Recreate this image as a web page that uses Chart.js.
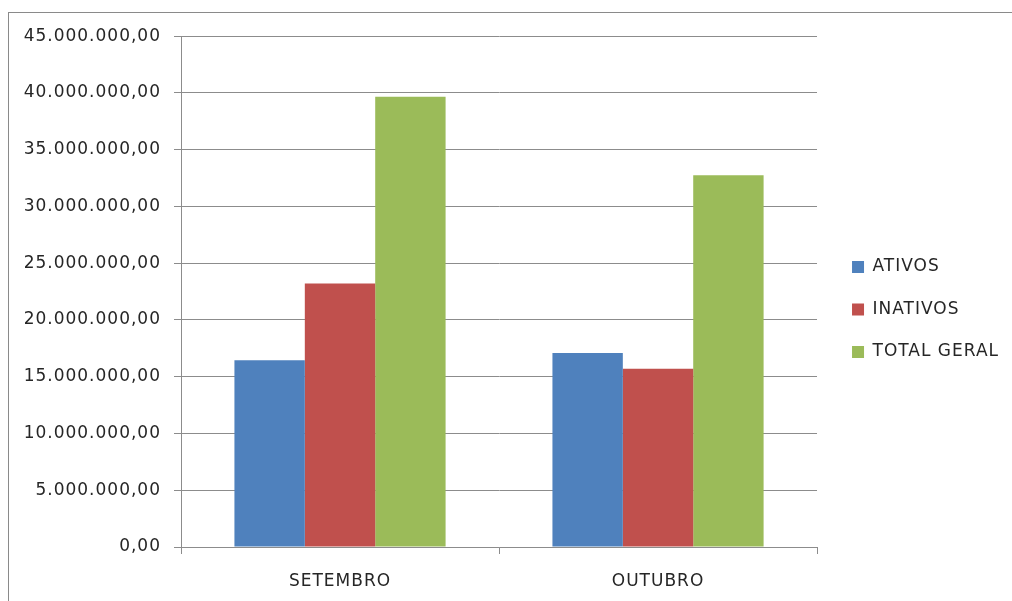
<!DOCTYPE html>
<html><head><meta charset="utf-8">
<script src="https://cdn.jsdelivr.net/npm/chart.js@4"></script>
<style>
html,body{margin:0;padding:0;overflow:hidden;background:#fff;width:1012px;height:601px}
#wrap{position:absolute;left:8px;top:12px;width:1010px;height:620px;border:1px solid #8a8a8a;background:#fff}
canvas{display:block}
</style></head><body>
<div id="wrap"><canvas id="c" width="1010" height="620"></canvas></div>
<script>
const categories = ['SETEMBRO', 'OUTUBRO'];
const seriesNames = ['ATIVOS', 'INATIVOS', 'TOTAL GERAL'];
const ativos = [16460000, 17100000];
const inativos = [23210000, 15700000];
const totalGeral = [39670000, 32750000];
const yTickValues = [0, 5000000, 10000000, 15000000, 20000000, 25000000, 30000000, 35000000, 40000000, 45000000];
const colors = ['#4F81BD', '#C0504D', '#9BBB59'];

function fmtBR(v) {
  const intPart = Math.round(v).toString().replace(/\B(?=(\d{3})+(?!\d))/g, '.');
  return intPart + ',00';
}

const legendShift = {
  id: 'legendShift',
  afterLayout(chart) {
    const l = chart.legend;
    if (!l) return;
    const dx = 9.5, dy = -25;
    l.left += dx; l.right += dx; l.top += dy; l.bottom += dy;
  },
  beforeDraw(chart) {
    if ('letterSpacing' in chart.ctx) chart.ctx.letterSpacing = '1px';
  }
};

const FONT = {family: "'DejaVu Sans', sans-serif", size: 17};
const TEXT = '#262626';
const gridColor = '#8c8c8c';

new Chart(document.getElementById('c'), {
  type: 'bar',
  data: {
    labels: categories,
    datasets: [
      {label: seriesNames[0], data: ativos, backgroundColor: colors[0]},
      {label: seriesNames[1], data: inativos, backgroundColor: colors[1]},
      {label: seriesNames[2], data: totalGeral, backgroundColor: colors[2]}
    ]
  },
  options: {
    responsive: false,
    animation: false,
    devicePixelRatio: 1,
    categoryPercentage: 0.664,
    barPercentage: 1,
    layout: {padding: {top: 23, left: 0, right: 30.5, bottom: 0}},
    plugins: {
      legend: {
        position: 'right',
        align: 'center',
        labels: {
          boxWidth: 12, boxHeight: 12, padding: 25.5,
          font: FONT, color: TEXT
        }
      },
      tooltip: {enabled: false}
    },
    scales: {
      x: {
        grid: {display: true, drawOnChartArea: false, drawTicks: true, tickLength: 7, color: gridColor, offset: true},
        border: {display: true, color: gridColor},
        ticks: {font: FONT, color: TEXT, padding: 17},
        afterFit(scale) { scale.height = 86; }
      },
      y: {
        min: 0, max: 45000000,
        grid: {color: gridColor, tickLength: 7, drawTicks: true},
        border: {display: true, color: gridColor},
        afterBuildTicks(scale) { scale.ticks = yTickValues.map(v => ({value: v})); },
        ticks: {font: FONT, color: TEXT, padding: 13, callback: v => fmtBR(v)},
        afterFit(scale) { scale.width = 172; }
      }
    }
  },
  plugins: [legendShift]
});
</script>
</body></html>
